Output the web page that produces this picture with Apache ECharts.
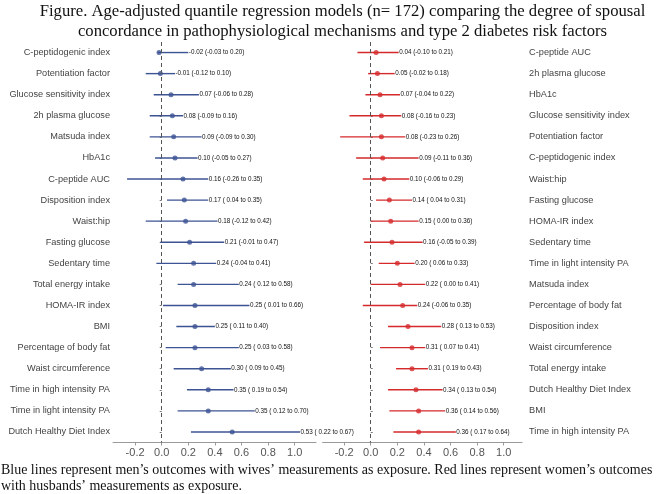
<!DOCTYPE html>
<html><head><meta charset="utf-8">
<script src="https://cdn.jsdelivr.net/npm/echarts@6/dist/echarts.min.js"></script>
<style>html,body{margin:0;padding:0;background:#fff}#c{width:657px;height:494px}</style>
</head><body><div id="c"></div>
<script>
// ---- Left panel (blue: men's outcomes, wives' exposure)
const leftCats = ["C-peptidogenic index","Potentiation factor","Glucose sensitivity index","2h plasma glucose","Matsuda index","HbA1c","C-peptide AUC","Disposition index","Waist:hip","Fasting glucose","Sedentary time","Total energy intake","HOMA-IR index","BMI","Percentage of body fat","Waist circumference","Time in high intensity PA","Time in light intensity PA","Dutch Healthy Diet Index"];
const leftEst = [-0.02,-0.01,0.07,0.08,0.09,0.10,0.16,0.17,0.18,0.21,0.24,0.24,0.25,0.25,0.25,0.30,0.35,0.35,0.53];
const leftLo  = [-0.03,-0.12,-0.06,-0.09,-0.09,-0.05,-0.26,0.04,-0.12,-0.01,-0.04,0.12,0.01,0.11,0.03,0.09,0.19,0.12,0.22];
const leftHi  = [0.20,0.10,0.28,0.16,0.30,0.27,0.35,0.35,0.42,0.47,0.41,0.58,0.66,0.40,0.58,0.52,0.54,0.70,1.04];
const leftText = ["-0.02 (-0.03 to 0.20)","-0.01 (-0.12 to 0.10)","0.07 (-0.06 to 0.28)","0.08 (-0.09 to 0.16)","0.09 (-0.09 to 0.30)","0.10 (-0.05 to 0.27)","0.16 (-0.26 to 0.35)","0.17 ( 0.04 to 0.35)","0.18 (-0.12 to 0.42)","0.21 (-0.01 to 0.47)","0.24 (-0.04 to 0.41)","0.24 ( 0.12 to 0.58)","0.25 ( 0.01 to 0.66)","0.25 ( 0.11 to 0.40)","0.25 ( 0.03 to 0.58)","0.30 ( 0.09 to 0.45)","0.35 ( 0.19 to 0.54)","0.35 ( 0.12 to 0.70)","0.53 ( 0.22 to 0.67)"];

// ---- Right panel (red: women's outcomes, husbands' exposure)
const rightCats = ["C-peptide AUC","2h plasma glucose","HbA1c","Glucose sensitivity index","Potentiation factor","C-peptidogenic index","Waist:hip","Fasting glucose","HOMA-IR index","Sedentary time","Time in light intensity PA","Matsuda index","Percentage of body fat","Disposition index","Waist circumference","Total energy intake","Dutch Healthy Diet Index","BMI","Time in high intensity PA"];
const rightEst = [0.04,0.05,0.07,0.08,0.08,0.09,0.10,0.14,0.15,0.16,0.20,0.22,0.24,0.28,0.31,0.31,0.34,0.36,0.36];
const rightLo  = [-0.10,-0.02,-0.04,-0.16,-0.23,-0.11,-0.06,0.04,0.00,-0.05,0.06,0.00,-0.06,0.13,0.07,0.19,0.13,0.14,0.17];
const rightHi  = [0.21,0.18,0.22,0.23,0.26,0.36,0.29,0.31,0.36,0.39,0.33,0.41,0.35,0.53,0.41,0.43,0.54,0.56,0.64];
const rightText = ["0.04 (-0.10 to 0.21)","0.05 (-0.02 to 0.18)","0.07 (-0.04 to 0.22)","0.08 (-0.16 to 0.23)","0.08 (-0.23 to 0.26)","0.09 (-0.11 to 0.36)","0.10 (-0.06 to 0.29)","0.14 ( 0.04 to 0.31)","0.15 ( 0.00 to 0.36)","0.16 (-0.05 to 0.39)","0.20 ( 0.06 to 0.33)","0.22 ( 0.00 to 0.41)","0.24 (-0.06 to 0.35)","0.28 ( 0.13 to 0.53)","0.31 ( 0.07 to 0.41)","0.31 ( 0.19 to 0.43)","0.34 ( 0.13 to 0.54)","0.36 ( 0.14 to 0.56)","0.36 ( 0.17 to 0.64)"];

const tickVals = [-0.2,0,0.2,0.4,0.6,0.8,1.0];
const titleLines = ["Figure. Age-adjusted quantile regression models (n= 172) comparing the degree of spousal","concordance in pathophysiological mechanisms and type 2 diabetes risk factors"];
const footLines = ["Blue lines represent men\u2019s outcomes with wives\u2019 measurements as exposure. Red lines represent women\u2019s outcomes","with husbands\u2019 measurements as exposure."];

const BLUE = '#3c5394', RED = '#d52a2c';
const SANS = "'Liberation Sans', Arial, sans-serif";
const SERIF = "'Liberation Serif', 'Times New Roman', serif";

// fit a serif font size so that a line spans a target pixel width
const ctx = document.createElement('canvas').getContext('2d');
function fitSize(text, family, target){
  ctx.font = '20px ' + family;
  return 20 * target / ctx.measureText(text).width;
}
const titleSize = fitSize(titleLines[0], SERIF, 606);
const footSize = fitSize(footLines[0], SERIF, 652);

function makeWhisker(lo, hi, txt, color, gi){
  return {
    type: 'custom', xAxisIndex: gi, yAxisIndex: gi, z: 3,
    data: lo.map((v, i) => [v, hi[i], i]),
    renderItem: function(params, api){
      const i = api.value(2);
      const a = api.coord([api.value(0), i]);
      const b = api.coord([api.value(1), i]);
      return {
        type: 'group',
        children: [
          {type: 'line', shape: {x1: a[0], y1: a[1], x2: b[0], y2: b[1]}, style: {stroke: color, lineWidth: 1.4}},
          {type: 'text', style: {text: txt[params.dataIndex], x: b[0] + 0.5, y: b[1], fill: '#111',
            font: '6.3px ' + SANS, textAlign: 'left', textVerticalAlign: 'middle'}}
        ]
      };
    },
    markLine: {
      silent: true, symbol: 'none', label: {show: false},
      lineStyle: {color: '#555', type: [4, 3], width: 1},
      data: [{xAxis: 0}]
    }
  };
}
function makeDots(est, color, gi){
  return {type: 'scatter', xAxisIndex: gi, yAxisIndex: gi, z: 4, symbol: 'circle', symbolSize: 5,
    itemStyle: {color: color}, data: est.map((v, i) => [v, i])};
}
function xAxis(gi, min, max){
  return {type: 'value', gridIndex: gi, min: min, max: max,
    splitLine: {show: false},
    axisLine: {show: true, lineStyle: {color: '#9a9a9a', width: 1}},
    axisTick: {show: true, customValues: tickVals, length: 3, lineStyle: {color: '#9a9a9a'}},
    axisLabel: {customValues: tickVals, formatter: v => v.toFixed(1), color: '#555', fontSize: 11, fontFamily: SANS, margin: 5}};
}
function yAxis(gi, cats, pos, margin){
  return {type: 'category', gridIndex: gi, data: cats, inverse: true, position: pos,
    axisLine: {show: false},
    axisTick: {show: true, alignWithLabel: true, length: 2, lineStyle: {color: '#777'}},
    axisLabel: {color: '#444', fontSize: 9.2, fontFamily: SANS, margin: margin},
    splitLine: {show: false}};
}

const chart = echarts.init(document.getElementById('c'), null, {renderer: 'canvas'});
chart.setOption({
  backgroundColor: '#fff',
  animation: false,
  grid: [
    {left: 113, top: 42, width: 203, height: 400.5},
    {left: 322.6, top: 42, width: 199.5, height: 400.5}
  ],
  xAxis: [xAxis(0, -0.366, 1.16), xAxis(1, -0.362, 1.138)],
  yAxis: [yAxis(0, leftCats, 'left', 3), yAxis(1, rightCats, 'right', 7)],
  graphic: [
    {type: 'text', x: 342.5, y: 12, style: {text: titleLines[0], font: titleSize.toFixed(2) + 'px ' + SERIF, fill: '#111', textAlign: 'center', textVerticalAlign: 'middle'}},
    {type: 'text', x: 342.5, y: 32, style: {text: titleLines[1], font: titleSize.toFixed(2) + 'px ' + SERIF, fill: '#111', textAlign: 'center', textVerticalAlign: 'middle'}},
    {type: 'text', x: 1, y: 470, style: {text: footLines[0], font: footSize.toFixed(2) + 'px ' + SERIF, fill: '#111', textAlign: 'left', textVerticalAlign: 'middle'}},
    {type: 'text', x: 1, y: 486, style: {text: footLines[1], font: footSize.toFixed(2) + 'px ' + SERIF, fill: '#111', textAlign: 'left', textVerticalAlign: 'middle'}}
  ],
  series: [
    makeWhisker(leftLo, leftHi, leftText, BLUE, 0),
    makeDots(leftEst, BLUE, 0),
    makeWhisker(rightLo, rightHi, rightText, RED, 1),
    makeDots(rightEst, RED, 1)
  ]
});
</script>
</body></html>
